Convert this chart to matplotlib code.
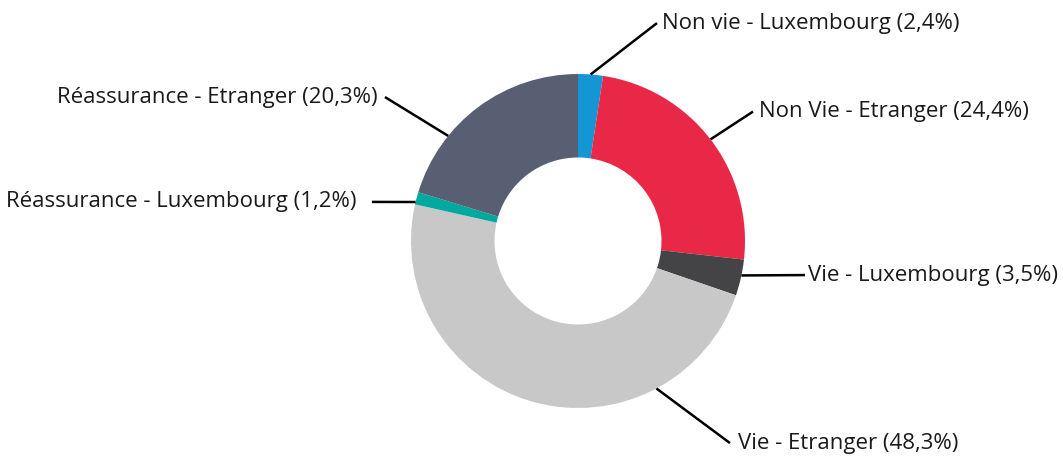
import numpy as np
import matplotlib.pyplot as plt

labels = ['Non vie - Luxembourg', 'Non Vie - Etranger', 'Vie - Luxembourg',
          'Vie - Etranger', 'Réassurance - Luxembourg', 'Réassurance - Etranger']
values = [2.4, 24.4, 3.5, 48.3, 1.2, 20.3]
pct_text = ['2,4%', '24,4%', '3,5%', '48,3%', '1,2%', '20,3%']
colors = ['#1496d4', '#e82846', '#444446', '#c8c8c8', '#00a99d', '#595f72']

# leader line ends (data units, radius = 1), gap to text in px, anchor overrides
line_end = [(0.473, 1.305), (1.048, 0.775), (1.359, -0.204), (0.910, -1.21),
            (-1.234, 0.234), (-1.156, 0.862)]
text_gap = [5, 6, 3, 8, 15, 7]
anchor_override = {2: 101.9, 3: 152.0, 4: 283.5, 5: 309.0}

plt.rcParams['font.family'] = ['Open Sans', 'DejaVu Sans']

W, H = 1063, 457
R = 167.0
cx, cy = 578.0, 241.0
fig = plt.figure(figsize=(W / 100, H / 100), dpi=100)
ax = fig.add_axes([0, 0, 1, 1])

ax.pie(values, colors=colors, startangle=90, counterclock=False, radius=1.0,
       center=(0, 0), frame=True,
       wedgeprops=dict(width=0.5, linewidth=0))
ax.set_aspect('equal')
ax.set_xlim(-cx / R, (W - cx) / R)
ax.set_ylim(-(H - cy) / R, cy / R)
ax.axis('off')

total = sum(values)
cum = np.cumsum([0] + values[:-1])
for i, (lab, v) in enumerate(zip(labels, values)):
    ang = (cum[i] + v / 2) / total * 360
    ang = anchor_override.get(i, ang)
    a = np.deg2rad(ang)
    x0, y0 = np.sin(a), np.cos(a)
    tx, ty = line_end[i]
    ha = 'left' if tx > 0 else 'right'
    ax.plot([x0, tx], [y0, ty], color='black', lw=1.8, solid_capstyle='butt')
    off = text_gap[i] / R * (1 if ha == 'left' else -1)
    ax.text(tx + off, ty, f'{lab} ({pct_text[i]})', ha=ha, va='center',
            fontsize=16, color='#1a1a1a')

fig.savefig('out.png', dpi=100)
